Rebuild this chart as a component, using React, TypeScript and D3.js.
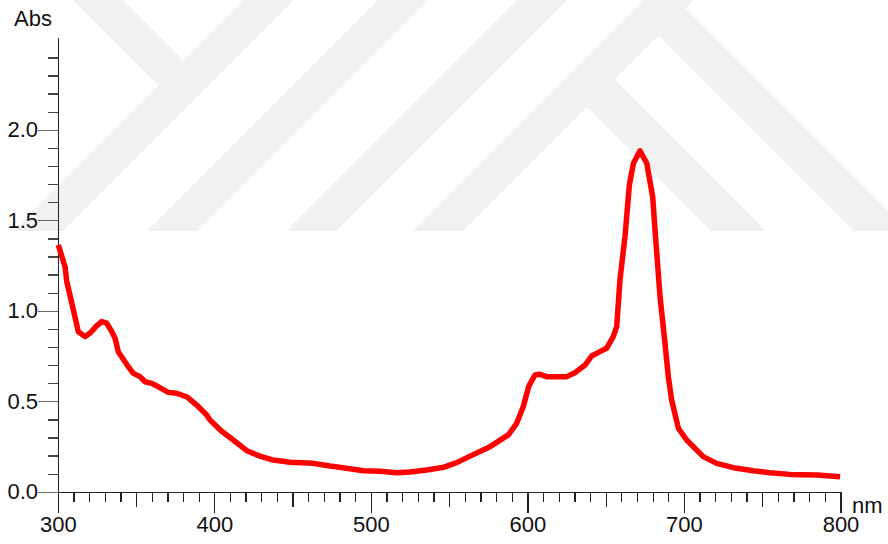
import { useEffect, useRef } from "react";
import * as d3 from "d3";

// absorption spectrum
const wavelength = [
  300, 304.3, 305.4, 308.6, 312.8, 317.1, 320.3, 324, 327.7, 330.9, 334, 336.2, 338.3,
  344.7, 347.9, 352.2, 355.4, 359.7, 363.9, 370.3, 375.6, 382, 388.4, 394.8, 396.9, 404,
  414, 420.4, 428.8, 437.3, 448, 462.9, 473.6, 484.2, 494.8, 505.5, 516.2, 524.7, 535.3,
  546, 554.5, 563, 575.8, 587.5, 592.8, 597, 600.5, 604.5, 607.7, 612, 624.8, 630.1,
  636.5, 640.7, 646, 650.3, 654.5, 656.7, 658.8, 662, 664.8, 667.4, 671.6, 675.9, 679.7,
  681.2, 684.4, 687.6, 689.7, 691.8, 696.1, 701.4, 712, 720.6, 731.2, 744, 754.6, 767.4,
  784.5, 799.4,
];
const absorbance = [
  1.366, 1.246, 1.164, 1.046, 0.887, 0.86, 0.88, 0.915, 0.943, 0.935, 0.89, 0.853, 0.777,
  0.694, 0.657, 0.639, 0.611, 0.602, 0.583, 0.552, 0.547, 0.528, 0.482, 0.427, 0.399, 0.34,
  0.274, 0.23, 0.2, 0.178, 0.166, 0.16, 0.145, 0.133, 0.119, 0.116, 0.108, 0.112, 0.123,
  0.138, 0.164, 0.2, 0.252, 0.317, 0.381, 0.473, 0.585, 0.648, 0.652, 0.639, 0.639, 0.661,
  0.703, 0.753, 0.777, 0.796, 0.86, 0.915, 1.173, 1.412, 1.698, 1.818, 1.887, 1.818, 1.633,
  1.449, 1.081, 0.82, 0.639, 0.51, 0.354, 0.289, 0.197, 0.16, 0.136, 0.119, 0.108, 0.099,
  0.096, 0.086,
];

const xLabels = [300, 400, 500, 600, 700, 800];
const yLabels = [0.0, 0.5, 1.0, 1.5, 2.0];

// faint background watermark (pixel polygons)
const watermark = [
  [[244, 0], [294, 0], [63, 231], [13, 231]],
  [[378, 0], [428, 0], [197, 231], [147, 231]],
  [[517, 0], [567, 0], [336, 231], [286, 231]],
  [[644, 0], [694, 0], [463, 231], [413, 231]],
  [[73, 0], [123, 0], [183.5, 60.5], [158.5, 85.5]],
  [[587, 107], [614.5, 79.5], [766, 231], [711, 231]],
  [[658.5, 35.5], [685.5, 8.5], [908, 231], [854, 231]],
];

const W = 888;
const H = 544;
const FONT = "'Liberation Sans', Arial, sans-serif";

export default function App() {
  const svgRef = useRef<SVGSVGElement>(null);

  useEffect(() => {
    const svg = d3.select(svgRef.current);
    svg.selectAll("*").remove();

    const x = d3.scaleLinear().domain([300, 800]).range([58.3, 841]);
    const y = d3.scaleLinear().domain([0, 2.5]).range([492.3, 39.8]);

    svg.append("g")
      .selectAll("polygon")
      .data(watermark)
      .join("polygon")
      .attr("points", (d) => d.map((p) => p.join(",")).join(" "))
      .attr("fill", "#f1f1f1");

    const ax = svg.append("g").attr("stroke-width", 1.3).attr("shape-rendering", "crispEdges");

    // y axis
    ax.append("line")
      .attr("x1", x(300)).attr("x2", x(300))
      .attr("y1", y(0)).attr("y2", 38)
      .attr("stroke", "#222");
    const yTicks = d3.range(1, 25).map((i) => i / 10);
    ax.selectAll("line.ym")
      .data(yTicks.filter((v) => Math.round(v * 10) % 5 !== 0))
      .join("line")
      .attr("class", "ym")
      .attr("x1", x(300) - 10).attr("x2", x(300))
      .attr("y1", (d) => y(d)).attr("y2", (d) => y(d))
      .attr("stroke", "#444");
    ax.selectAll("line.yM")
      .data(yLabels)
      .join("line")
      .attr("class", "yM")
      .attr("x1", x(300) - 20).attr("x2", x(300))
      .attr("y1", (d) => y(d)).attr("y2", (d) => y(d))
      .attr("stroke", "#666");

    // x axis
    ax.append("line")
      .attr("x1", x(300)).attr("x2", x(800))
      .attr("y1", y(0)).attr("y2", y(0))
      .attr("stroke", "#222");
    const xTicks = d3.range(300, 801, 10);
    ax.selectAll("line.xt")
      .data(xTicks)
      .join("line")
      .attr("class", "xt")
      .attr("x1", (d) => x(d)).attr("x2", (d) => x(d))
      .attr("y1", y(0))
      .attr("y2", (d) => y(0) + (d % 100 === 0 ? 21 : d % 50 === 0 ? 15 : 10))
      .attr("stroke", "#222");

    const txt = svg.append("g")
      .attr("font-family", FONT)
      .attr("font-size", 22)
      .attr("fill", "#111");

    txt.selectAll("text.yl")
      .data(yLabels)
      .join("text")
      .attr("class", "yl")
      .attr("x", 38)
      .attr("y", (d) => y(d) + 7)
      .attr("text-anchor", "end")
      .text((d) => d.toFixed(1));

    txt.selectAll("text.xl")
      .data(xLabels)
      .join("text")
      .attr("class", "xl")
      .attr("x", (d) => x(d))
      .attr("y", 532)
      .attr("text-anchor", "middle")
      .text((d) => d);

    txt.append("text").attr("x", 14).attr("y", 26).text("Abs");
    txt.append("text").attr("x", 852).attr("y", 513).text("nm");

    const pts = wavelength.map((w, i) => [w, absorbance[i]] as [number, number]);
    const line = d3.line<[number, number]>()
      .x((d) => x(d[0]))
      .y((d) => y(d[1]));

    svg.append("path")
      .datum(pts)
      .attr("d", line)
      .attr("fill", "none")
      .attr("stroke", "#ff0000")
      .attr("stroke-width", 5.5)
      .attr("stroke-linejoin", "round")
      .attr("stroke-linecap", "butt");
  }, []);

  return (
    <div style={{ position: "fixed", left: 0, top: 0 }}>
      <svg ref={svgRef} width={W} height={H} style={{ display: "block", background: "#fff" }} />
    </div>
  );
}
